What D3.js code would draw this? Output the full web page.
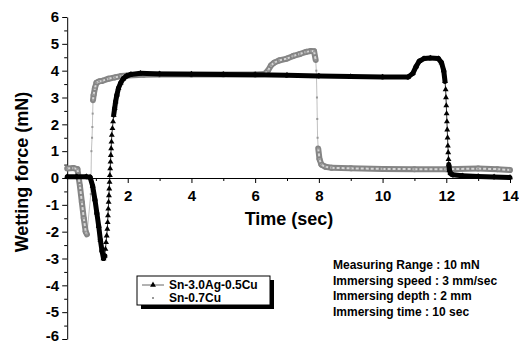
<!DOCTYPE html>
<html>
<head>
<meta charset="utf-8">
<script src="https://d3js.org/d3.v7.min.js"></script>
<style>
body { margin: 0; background: #fff; }
text { font-family: "Liberation Sans", Arial, sans-serif; font-weight: bold; fill: #000; }
</style>
</head>
<body>
<div id="viz"></div>
<script>
// tick labels
var xTickValues = [2, 4, 6, 8, 10, 12, 14];
var xMinorValues = [1, 3, 5, 7, 9, 11, 13];
var yTickValues = [-6, -5, -4, -3, -2, -1, 0, 1, 2, 3, 4, 5, 6];
var legendNames = ["Sn-3.0Ag-0.5Cu", "Sn-0.7Cu"];
var notes = ["Measuring Range : 10 mN", "Immersing speed : 3 mm/sec",
             "Immersing depth : 2 mm", "Immersing time : 10 sec"];

// Sn-3.0Ag-0.5Cu (black triangles)
var agTime  = [0.1, 0.4, 0.7, 0.82, 0.9, 0.97, 1.03, 1.09, 1.14, 1.19, 1.24,
               1.28, 1.30, 1.32, 1.34, 1.36, 1.37, 1.38, 1.39, 1.40, 1.41, 1.42, 1.43,
               1.44, 1.45, 1.46, 1.47, 1.48, 1.49, 1.50, 1.52, 1.54, 1.56, 1.59, 1.62,
               1.66, 1.71, 1.78, 1.86, 1.96, 2.1, 2.4, 3, 4, 5, 6, 7, 8, 9, 10, 10.8,
               10.95, 11.05, 11.15, 11.3, 11.5, 11.75, 11.85, 11.92, 11.96,
               11.98, 11.99, 12.0, 12.01, 12.02, 12.03, 12.04, 12.05, 12.06, 12.07,
               12.08, 12.1, 12.13, 12.2, 12.5, 13, 13.5, 14];
var agForce = [0.05, 0.05, 0.05, 0.03, -0.3, -0.8, -1.3, -1.8, -2.3, -2.7, -3.0,
               -2.9, -2.65, -2.4, -2.15, -1.9, -1.65, -1.4, -1.15, -0.9, -0.65, -0.4, -0.15,
               0.1, 0.35, 0.6, 0.85, 1.1, 1.35, 1.6, 1.85, 2.1, 2.35, 2.6, 2.85,
               3.1, 3.35, 3.55, 3.7, 3.8, 3.86, 3.9, 3.88, 3.87, 3.86, 3.85, 3.83, 3.8, 3.78, 3.76, 3.76,
               3.9, 4.15, 4.35, 4.45, 4.47, 4.45, 4.3, 4.0, 3.6,
               3.3, 3.0, 2.7, 2.4, 2.1, 1.8, 1.5, 1.2, 0.95, 0.7,
               0.5, 0.3, 0.18, 0.12, 0.08, 0.06, 0.04, 0.02];

// Sn-0.7Cu (grey)
var cuTime  = [0.1, 0.3, 0.42, 0.5, 0.56, 0.62, 0.68, 0.72,
               0.84, 0.86, 0.88, 0.89, 0.9, 0.91, 0.93, 0.97, 1.02, 1.1, 1.2, 1.4, 1.6,
               1.8, 2.0, 2.5, 3, 4, 5, 6, 6.3, 6.4, 6.5, 6.6, 6.75, 7.0, 7.2, 7.4, 7.6,
               7.75, 7.85, 7.9, 7.92, 7.94, 7.95, 7.96, 7.98, 8.02, 8.08, 8.2, 8.4,
               9, 10, 11, 12, 13, 13.6, 14];
var cuForce = [0.35, 0.37, 0.33, -0.3, -0.9, -1.5, -2.0, -2.1,
               -0.6, 1.0, 1.5, 1.9, 2.4, 2.9, 3.1, 3.35, 3.55, 3.6, 3.62, 3.7, 3.75,
               3.8, 3.82, 3.85, 3.86, 3.86, 3.86, 3.86, 3.88, 4.0, 4.2, 4.3, 4.38, 4.45, 4.55, 4.62, 4.7,
               4.73, 4.72, 4.4, 4.0, 3.0, 2.2, 1.5, 1.1, 0.7, 0.5, 0.42, 0.38,
               0.36, 0.34, 0.33, 0.33, 0.35, 0.33, 0.3];

var W = 519, H = 345;
var svg = d3.select("#viz").append("svg")
    .attr("width", W)
    .attr("height", H);

var x = d3.scaleLinear().domain([0.1, 14]).range([67.2, 510]);
var y = d3.scaleLinear().domain([-6, 6]).range([339, 17]);

// y axis with minor ticks
svg.append("g")
    .attr("transform", "translate(" + x(0.1) + ",0)")
    .call(d3.axisLeft(y).tickValues(d3.range(-5.5, 6, 1)).tickSize(3).tickSizeOuter(0).tickFormat(""))
    .call(function(g) { g.select(".domain").remove(); });
var yAxis = svg.append("g")
    .attr("transform", "translate(" + x(0.1) + ",0)")
    .call(d3.axisLeft(y).tickValues(yTickValues).tickSize(5).tickSizeOuter(0).tickPadding(3)
        .tickFormat(function(d) { return String(d); }));
yAxis.selectAll("text").style("font-size", "15px");
// keep the bottom label inside the picture
yAxis.selectAll(".tick").filter(function(d) { return d === -6; })
    .select("text").attr("dy", "0.1em");

// x axis at zero
svg.append("g")
    .attr("transform", "translate(0," + y(0) + ")")
    .call(d3.axisBottom(x).tickValues(xMinorValues).tickSize(3).tickSizeOuter(0).tickFormat(""))
    .call(function(g) { g.select(".domain").remove(); });
var xAxis = svg.append("g")
    .attr("transform", "translate(0," + y(0) + ")")
    .call(d3.axisBottom(x).tickValues(xTickValues).tickSize(5).tickSizeOuter(0).tickPadding(7)
        .tickFormat(function(d) { return String(d); }));
xAxis.selectAll("text").style("font-size", "15px");
svg.selectAll(".domain, .tick line").attr("stroke", "#000").attr("stroke-width", 1);

svg.append("text")
    .attr("x", 289).attr("y", 225)
    .attr("text-anchor", "middle")
    .style("font-size", "18px")
    .text("Time (sec)");
svg.append("text")
    .attr("transform", "translate(28,172) rotate(-90)")
    .attr("text-anchor", "middle")
    .style("font-size", "18px")
    .text("Wetting force (mN)");

// helpers
function pts(ts, vs) { return ts.map(function(t, i) { return [x(t), y(vs[i])]; }); }
var line = d3.line();
function slow(ts, vs, i) {
    return Math.abs((vs[i] - vs[i - 1]) / (ts[i] - ts[i - 1])) < 12;
}

// thick band where the curve moves slowly, thin line where it jumps
function drawSeries(p, ts, vs, bandColor, bandWidth, thinColor) {
    var g = svg.append("g");
    g.append("path").attr("d", line(p)).attr("fill", "none")
        .attr("stroke", thinColor).attr("stroke-width", 0.8);
    for (var i = 1; i < p.length; i++) {
        if (slow(ts, vs, i)) {
            g.append("path").attr("d", line([p[i - 1], p[i]]))
                .attr("fill", "none").attr("stroke", bandColor)
                .attr("stroke-width", bandWidth).attr("stroke-linecap", "round");
        }
    }
    return g;
}

var agP = pts(agTime, agForce);
var cuP = pts(cuTime, cuForce);

// grey series
var gCu = drawSeries(cuP, cuTime, cuForce, "#858585", 6, "#b0b0b0");
for (var i = 1; i < cuP.length; i++) {
    if (slow(cuTime, cuForce, i)) {
        gCu.append("path").attr("d", line([cuP[i - 1], cuP[i]]))
            .attr("fill", "none").attr("stroke", "#d6d6d6")
            .attr("stroke-width", 2).attr("stroke-dasharray", "3,2");
    }
}
gCu.selectAll("rect.dot").data(cuP).enter().append("rect")
    .attr("x", function(d) { return d[0] - 1; })
    .attr("y", function(d) { return d[1] - 1; })
    .attr("width", 2).attr("height", 2)
    .attr("fill", "#999");

// black series
var gAg = drawSeries(agP, agTime, agForce, "#000", 5, "#000");
var tri = d3.symbol().type(d3.symbolTriangle).size(15);
gAg.selectAll("path.tri").data(agP).enter().append("path")
    .attr("d", tri)
    .attr("transform", function(d) { return "translate(" + d[0] + "," + d[1] + ")"; })
    .attr("fill", "#000");

// legend
var lg = svg.append("g").attr("transform", "translate(137,276)");
lg.append("rect").attr("x", 4).attr("y", 4).attr("width", 133).attr("height", 29).attr("fill", "#000");
lg.append("rect").attr("x", 0).attr("y", 0).attr("width", 133).attr("height", 29)
    .attr("fill", "#fff").attr("stroke", "#000").attr("stroke-width", 1);
lg.append("line").attr("x1", 5).attr("x2", 27).attr("y1", 9).attr("y2", 9)
    .attr("stroke", "#666").attr("stroke-width", 1);
lg.append("path").attr("d", tri).attr("transform", "translate(16,9)").attr("fill", "#000");
lg.append("rect").attr("x", 15).attr("y", 21).attr("width", 2).attr("height", 2).attr("fill", "#999");
lg.selectAll("text.name").data(legendNames).enter().append("text")
    .attr("x", 32)
    .attr("y", function(d, i) { return 13 + i * 13; })
    .style("font-size", "12px")
    .text(function(d) { return d; });

// test conditions
svg.selectAll("text.note").data(notes).enter().append("text")
    .attr("x", 333)
    .attr("y", function(d, i) { return 269 + i * 15.5; })
    .style("font-size", "12px")
    .text(function(d) { return d; });
</script>
</body>
</html>
